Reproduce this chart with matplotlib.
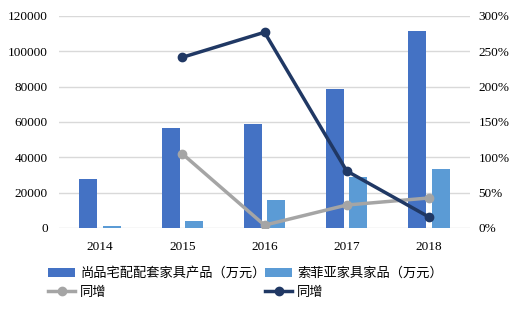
import matplotlib
matplotlib.use("Agg")
import matplotlib.pyplot as plt
import numpy as np
from matplotlib.ticker import FuncFormatter

plt.rcParams['font.family'] = ['Liberation Serif', 'Noto Sans CJK SC']

years = ['2014', '2015', '2016', '2017', '2018']
shangpin = [27500, 56600, 58900, 78500, 111700]
suofeiya = [1100, 3800, 15850, 28700, 33200]
growth_shangpin = [np.nan, 105.0, 4.0, 32.5, 42.5]
growth_suofeiya = [np.nan, 241.5, 277.0, 80.7, 15.6]

names = ['尚品宅配配套家具产品（万元）', '索菲亚家具家品（万元）', '同增', '同增']

fig = plt.figure(figsize=(5.18, 3.10), dpi=100)
ax = fig.add_axes([59/518, 1-228/310, 411/518, 212/310])
ax2 = ax.twinx()

x = np.arange(len(years))
w = 0.22
b1 = ax.bar(x - 0.143, shangpin, w, color='#4472C4', label=names[0], zorder=2)
b2 = ax.bar(x + 0.143, suofeiya, w, color='#5B9BD5', label=names[1], zorder=2)

l1, = ax2.plot(x, growth_shangpin, color='#A5A5A5', lw=2.5, marker='o', ms=6, label=names[2])
l2, = ax2.plot(x, growth_suofeiya, color='#203864', lw=2.5, marker='o', ms=6, label=names[3])

ax.set_xlim(-0.5, 4.5)
ax.set_ylim(0, 120000)
ax.set_yticks(np.arange(0, 120001, 20000))
ax2.set_ylim(0, 300)
ax2.set_yticks(np.arange(0, 301, 50))
ax2.yaxis.set_major_formatter(FuncFormatter(lambda v, p: f'{int(v)}%'))
ax.set_xticks(x)
ax.set_xticklabels(years)

ax.yaxis.grid(True, color='#D9D9D9', lw=1, zorder=0)
ax.set_axisbelow(True)
for a in (ax, ax2):
    for s in a.spines.values():
        s.set_visible(False)
    a.tick_params(length=0, labelsize=9.5, colors='#000000')
ax.tick_params(axis='y', pad=8)
ax2.tick_params(axis='y', pad=6)
ax.tick_params(axis='x', pad=9)

leg = fig.legend([b1, l1, b2, l2], [names[0], names[2], names[1], names[3]],
                 loc='upper left', bbox_to_anchor=(43/518, 1-262/310),
                 ncol=2, frameon=False, fontsize=9.5, handlelength=2.05, columnspacing=0.0,
                 handletextpad=0.35, labelspacing=0.5, borderaxespad=0)

fig.savefig('out.png', dpi=100)
